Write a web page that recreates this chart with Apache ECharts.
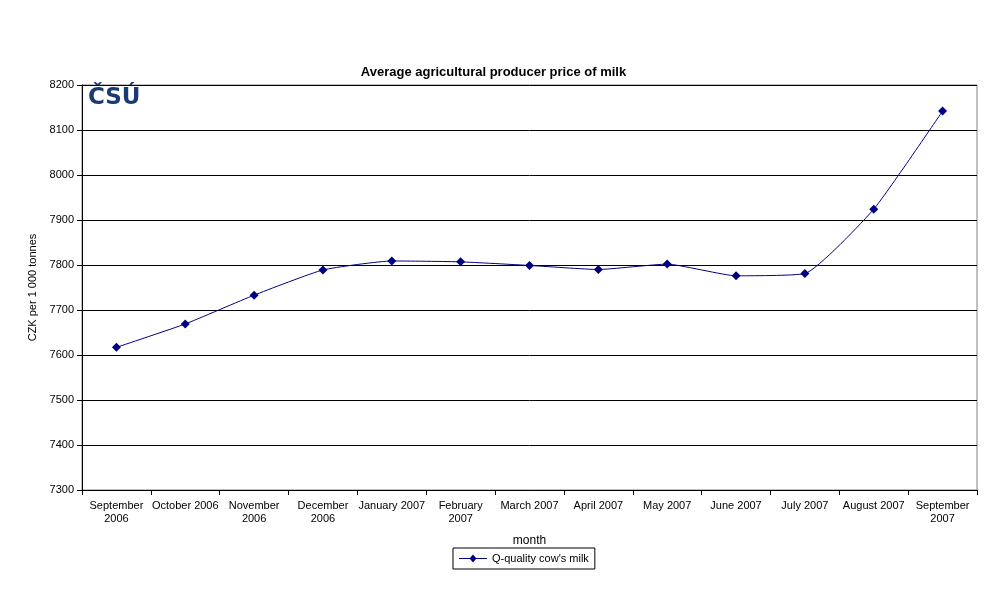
<!DOCTYPE html>
<html><head><meta charset="utf-8">
<script src="https://cdn.jsdelivr.net/npm/echarts@6/dist/echarts.min.js"></script>
<style>html,body{margin:0;padding:0;background:#fff}#c{width:987px;height:597px}</style>
</head><body><div id="c"></div>
<script>
const categories = ['September\n2006','October 2006','November\n2006','December\n2006','January 2007','February\n2007','March 2007','April 2007','May 2007','June 2007','July 2007','August 2007','September\n2007'];
const milkPrice = [7617, 7669, 7733, 7789, 7809, 7807, 7799, 7790, 7802, 7776, 7781, 7924, 8142];
const seriesName = "Q-quality cow's milk";
const chart = echarts.init(document.getElementById('c'));
const F = 'Liberation Sans, Arial, sans-serif';
chart.setOption({
  animation:false,
  title:{text:'Average agricultural producer price of milk',left:'center',top:61,textStyle:{fontFamily:F,fontSize:13,fontWeight:'bold',color:'#000'}},
  grid:{left:82,right:10,top:85,bottom:107,show:true,borderColor:'#808080',borderWidth:1},
  legend:{top:548,left:453,data:[seriesName],itemWidth:28,itemHeight:8,itemGap:4,borderColor:'#000',borderWidth:1,padding:[5,6,5,6],textStyle:{fontFamily:F,fontSize:11,color:'#000'},
    icon:'path://M0,3.5 L11,3.5 L14,0 L17,3.5 L28,3.5 L28,4.5 L17,4.5 L14,8 L11,4.5 L0,4.5 Z'},
  graphic:[{type:'text',left:88,top:87,style:{text:'ČSÚ',font:'bold 23px DejaVu Sans, Liberation Sans',fill:'#1a3a73'}}],
  xAxis:{type:'category',data:categories,boundaryGap:true,name:'month',nameLocation:'middle',nameGap:45,nameTextStyle:{fontFamily:F,fontSize:12,color:'#000'},
    axisLine:{lineStyle:{color:'#000'}},axisTick:{show:true,length:5,lineStyle:{color:'#000'}},
    axisLabel:{interval:0,fontFamily:F,fontSize:11,color:'#000',lineHeight:13,margin:9}},
  yAxis:{type:'value',min:7300,max:8200,interval:100,name:'CZK per 1 000 tonnes',nameLocation:'middle',nameGap:33,nameTextStyle:{fontFamily:F,fontSize:11,color:'#000'},
    axisLine:{show:true,lineStyle:{color:'#000'}},axisTick:{show:true,length:5,inside:false,lineStyle:{color:'#000'}},
    axisLabel:{fontFamily:F,fontSize:11,color:'#000',margin:8,formatter:v=>String(v)},
    splitLine:{lineStyle:{color:'#000',width:1}}},
  series:[{name:seriesName,type:'line',data:milkPrice,smooth:0.15,symbol:'diamond',symbolSize:9,
    lineStyle:{color:'#000080',width:1},itemStyle:{color:'#000080'}}]
});
</script></body></html>
